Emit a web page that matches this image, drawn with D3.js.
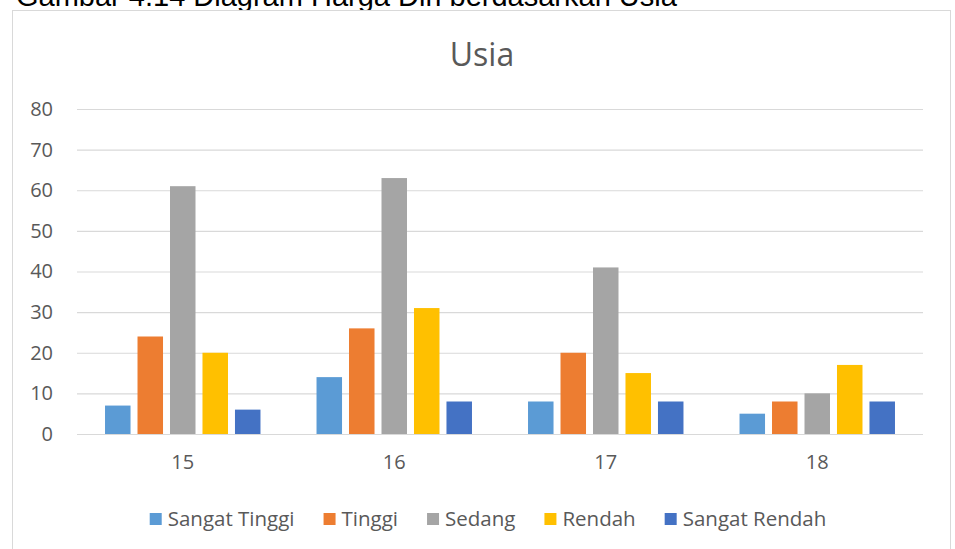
<!DOCTYPE html>
<html>
<head>
<meta charset="utf-8">
<script src="https://cdn.jsdelivr.net/npm/d3@7"></script>
<style>
  body { margin: 0; background: #fff; }
  svg { display: block; }
  text { font-family: "Open Sans", "Noto Sans", sans-serif; fill: #595959; }
</style>
</head>
<body>
<script>
// page size
var w = 955;
var h = 549;

// data
var categories = ["15", "16", "17", "18"];
var seriesNames = ["Sangat Tinggi", "Tinggi", "Sedang", "Rendah", "Sangat Rendah"];
var sangatTinggi = [7, 14, 8, 5];
var tinggi = [24, 26, 20, 8];
var sedang = [61, 63, 41, 10];
var rendah = [20, 31, 15, 17];
var sangatRendah = [6, 8, 8, 8];
var yTicks = [0, 10, 20, 30, 40, 50, 60, 70, 80];
var colors = ["#5B9BD5", "#ED7D31", "#A5A5A5", "#FFC000", "#4472C4"];

var seriesValues = [sangatTinggi, tinggi, sedang, rendah, sangatRendah];

var svg = d3.select("body")
  .append("svg")
  .attr("width", w)
  .attr("height", h);

// caption above the chart (cut off at the top in the picture)
svg.append("text")
  .attr("x", 16)
  .attr("y", 6)
  .style("font-family", "'Liberation Sans', Arial, sans-serif")
  .style("font-size", "29px")
  .style("fill", "#000")
  .text("Gambar 4.14 Diagram Harga Diri berdasarkan Usia");

// chart frame
svg.append("rect")
  .attr("x", 12.5)
  .attr("y", 10.5)
  .attr("width", 938)
  .attr("height", 560)
  .attr("fill", "#fff")
  .attr("stroke", "#d9d9d9")
  .attr("stroke-width", 1);

// plot area edges
var plotLeft = 77, plotRight = 923, plotTop = 109, plotBottom = 434;

var x0 = d3.scaleBand()
  .domain(categories)
  .range([plotLeft, plotRight])
  .paddingInner(0.265)
  .paddingOuter(0.1325);

var x1 = d3.scaleBand()
  .domain(seriesNames)
  .range([0, x0.bandwidth()])
  .paddingInner(0.215);

var y = d3.scaleLinear()
  .domain([0, 80])
  .range([plotBottom, plotTop]);

// gridlines + y labels
var yAxis = d3.axisLeft(y)
  .tickValues(yTicks)
  .tickSize(-(plotRight - plotLeft))
  .tickPadding(24);

var gy = svg.append("g")
  .attr("transform", "translate(" + plotLeft + ",0)")
  .call(yAxis);
gy.select(".domain").remove();
gy.selectAll(".tick line").attr("stroke", "#d9d9d9").attr("stroke-width", 1.2);
gy.selectAll(".tick text")
  .style("font-size", "20px")
  .attr("fill", "#595959");

// bars
var groups = svg.selectAll(".grp")
  .data(categories)
  .enter()
  .append("g")
  .attr("class", "grp")
  .attr("transform", function(d) { return "translate(" + x0(d) + ",0)"; });

groups.selectAll("rect")
  .data(function(d, i) {
    return seriesNames.map(function(s, j) {
      return {name: s, value: seriesValues[j][i], color: colors[j]};
    });
  })
  .enter()
  .append("rect")
  .attr("x", function(d) { return x1(d.name); })
  .attr("y", function(d) { return y(d.value); })
  .attr("width", x1.bandwidth())
  .attr("height", function(d) { return plotBottom - y(d.value); })
  .attr("fill", function(d) { return d.color; });

// category labels
var xAxis = d3.axisBottom(x0).tickSize(0).tickPadding(21);
var gx = svg.append("g")
  .attr("transform", "translate(0," + plotBottom + ")")
  .call(xAxis);
gx.select(".domain").remove();
gx.selectAll(".tick text")
  .style("font-size", "20px")
  .attr("fill", "#595959");

// title
svg.append("text")
  .attr("x", 482)
  .attr("y", 66)
  .attr("text-anchor", "middle")
  .style("font-size", "32px")
  .text("Usia");

// legend, laid out from measured text widths
var legend = svg.append("g");
var lx = 0;
seriesNames.forEach(function(s, i) {
  var item = legend.append("g").attr("transform", "translate(" + lx + ",0)");
  item.append("rect")
    .attr("x", 0)
    .attr("y", -6)
    .attr("width", 12)
    .attr("height", 12)
    .attr("fill", colors[i]);
  var t = item.append("text")
    .attr("x", 18)
    .attr("y", 7)
    .style("font-size", "20.5px")
    .text(s);
  lx += 18 + t.node().getComputedTextLength() + 29;
});
lx -= 29;
legend.attr("transform", "translate(" + (488 - lx / 2) + ",519)");
</script>
</body>
</html>
